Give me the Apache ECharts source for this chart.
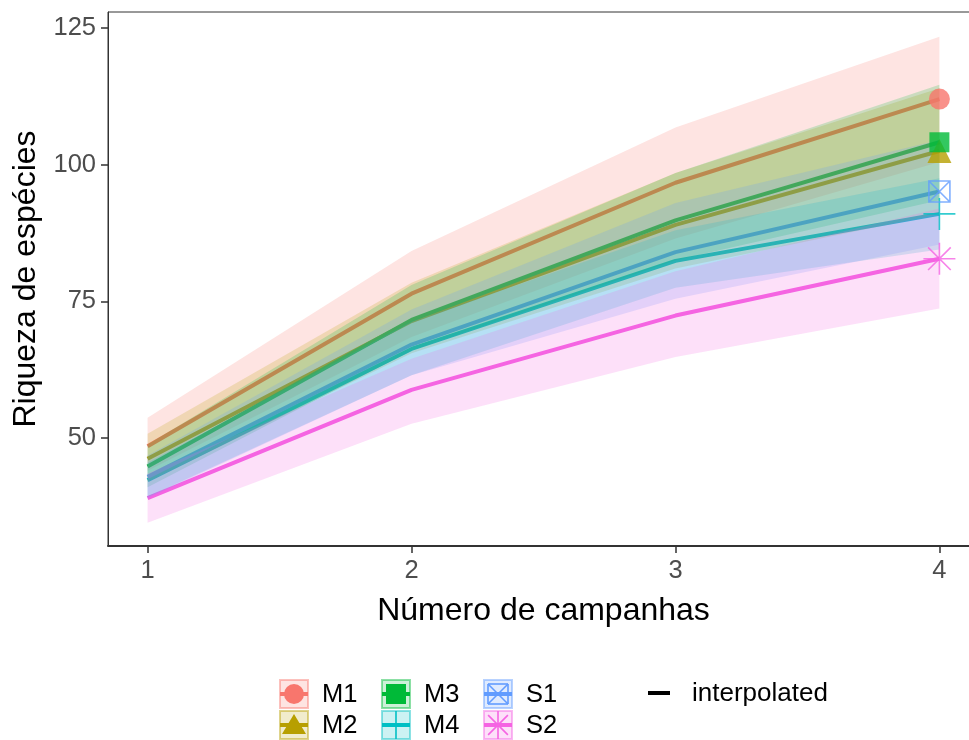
<!DOCTYPE html>
<html>
<head>
<meta charset="utf-8">
<script src="https://cdn.jsdelivr.net/npm/echarts@6/dist/echarts.min.js"></script>
<style>
html,body{margin:0;padding:0;background:#fff;}
#chart{width:969px;height:740px;}
</style>
</head>
<body>
<div id="chart"></div>
<script>
// ---- data ----
const campanhas = [1, 2, 3, 4];
const xTicks = [1, 2, 3, 4];
const yTicks = [50, 75, 100, 125];
const groups = ['M1', 'M2', 'M3', 'M4', 'S1', 'S2'];

const M1 = [48.5, 76.4, 96.7, 112.0];
const M1_lo = [44.0, 68.5, 86.5, 100.5];
const M1_hi = [53.7, 84.2, 106.8, 123.4];

const M2 = [46.2, 71.4, 89.0, 102.5];
const M2_lo = [42.0, 65.5, 81.0, 91.0];
const M2_hi = [50.8, 78.4, 98.5, 114.0];

const M3 = [44.8, 71.6, 89.8, 104.1];
const M3_lo = [41.0, 66.0, 82.5, 93.5];
const M3_hi = [48.8, 78.0, 98.5, 114.6];

const M4 = [42.3, 66.3, 82.4, 91.0];
const M4_lo = [39.2, 61.5, 77.5, 84.5];
const M4_hi = [45.5, 71.3, 88.0, 97.5];

const S1 = [42.9, 67.1, 84.0, 95.1];
const S1_lo = [39.0, 61.5, 75.5, 85.4];
const S1_hi = [46.8, 73.5, 93.0, 104.5];

const S2 = [39.0, 58.8, 72.4, 82.8];
const S2_lo = [34.5, 52.6, 64.8, 73.7];
const S2_hi = [43.5, 64.5, 80.5, 92.0];

const values = {M1: M1, M2: M2, M3: M3, M4: M4, S1: S1, S2: S2};
const lowers = {M1: M1_lo, M2: M2_lo, M3: M3_lo, M4: M4_lo, S1: S1_lo, S2: S2_lo};
const uppers = {M1: M1_hi, M2: M2_hi, M3: M3_hi, M4: M4_hi, S1: S1_hi, S2: S2_hi};

// ---- style ----
const colors = {M1: '#F8766D', M2: '#B79F00', M3: '#00BA38', M4: '#00BFC4', S1: '#619CFF', S2: '#F564E3'};
const FONT = '"Liberation Sans", Arial, sans-serif';
function rgba(hex, a) {
  const r = parseInt(hex.slice(1, 3), 16), g = parseInt(hex.slice(3, 5), 16), b = parseInt(hex.slice(5, 7), 16);
  return 'rgba(' + r + ',' + g + ',' + b + ',' + a + ')';
}
const PLUS = 'M10,0 L10,20 M0,10 L20,10';
const BOXX = 'M0,0 L20,0 L20,20 L0,20 Z M0,0 L20,20 M20,0 L0,20';
const STAR = 'M10,0 L10,20 M0,10 L20,10 M2.93,2.93 L17.07,17.07 M17.07,2.93 L2.93,17.07';
// same shapes as segment lists (unit 0..20) for the legend keys
const SEG_PLUS = [[10, 0, 10, 20], [0, 10, 20, 10]];
const SEG_BOXX = [[0, 0, 20, 0], [20, 0, 20, 20], [20, 20, 0, 20], [0, 20, 0, 0], [0, 0, 20, 20], [20, 0, 0, 20]];
const SEG_STAR = [[10, 0, 10, 20], [0, 10, 20, 10], [2.93, 2.93, 17.07, 17.07], [17.07, 2.93, 2.93, 17.07]];
const symbols = {
  M1: {symbol: 'circle', size: 21, filled: true},
  M2: {symbol: 'triangle', size: 24, filled: true},
  M3: {symbol: 'rect', size: 20, filled: true},
  M4: {symbol: 'path://' + PLUS, size: 32, filled: false},
  S1: {symbol: 'path://' + BOXX, size: 21, filled: false},
  S2: {symbol: 'path://' + STAR, size: 32, filled: false}
};

const series = [];
// lines (under ribbons, as in the original layering)
groups.forEach(g => {
  series.push({
    type: 'line', name: g + ' line', z: 2,
    data: campanhas.map((x, i) => [x, values[g][i]]),
    showSymbol: false, symbol: 'none',
    lineStyle: {color: colors[g], width: 4},
    silent: true, animation: false
  });
});
// ribbons
groups.forEach(g => {
  const lo = lowers[g], hi = uppers[g];
  series.push({
    type: 'custom', name: g + ' ribbon', z: 3,
    data: campanhas.map((x, i) => [x, lo[i], hi[i]]),
    encode: {x: 0, y: [1, 2]},
    renderItem: function (params, api) {
      if (params.dataIndex !== 0) return null;
      const pts = [];
      for (let i = 0; i < campanhas.length; i++) pts.push(api.coord([campanhas[i], hi[i]]));
      for (let i = campanhas.length - 1; i >= 0; i--) pts.push(api.coord([campanhas[i], lo[i]]));
      return {type: 'polygon', shape: {points: pts}, style: {fill: rgba(colors[g], 0.2)}};
    },
    silent: true, animation: false
  });
});
// observed points
groups.forEach(g => {
  const s = symbols[g];
  const n = campanhas.length - 1;
  series.push({
    type: 'scatter', name: g, z: 4,
    data: [[campanhas[n], values[g][n]]],
    symbol: s.symbol, symbolSize: s.size,
    itemStyle: s.filled ? {color: colors[g]} : {color: 'none', borderColor: colors[g], borderWidth: 1.6},
    silent: true, animation: false
  });
});

// ---- legend (drawn as graphic keys) ----
const graphics = [];
const colX = [279, 381, 483];
const rowY = [679, 710];
const KEY = 30;
const legendPos = {M1: [0, 0], M2: [0, 1], M3: [1, 0], M4: [1, 1], S1: [2, 0], S2: [2, 1]};
function segs(list, ox, oy, size, c) {
  const k = size / 20;
  list.forEach(s => graphics.push({type: 'line',
    shape: {x1: ox + s[0] * k, y1: oy + s[1] * k, x2: ox + s[2] * k, y2: oy + s[3] * k},
    style: {stroke: c, lineWidth: 1.6}}));
}
groups.forEach(g => {
  const c = colors[g];
  const x0 = colX[legendPos[g][0]], y0 = rowY[legendPos[g][1]];
  const cx = x0 + KEY / 2, cy = y0 + KEY / 2;
  graphics.push({type: 'rect', shape: {x: x0 + 1, y: y0 + 1, width: KEY - 2, height: KEY - 2},
    style: {fill: rgba(c, 0.2), stroke: rgba(c, 0.45), lineWidth: 2}});
  graphics.push({type: 'line', shape: {x1: x0 + 1, y1: cy, x2: x0 + KEY - 1, y2: cy},
    style: {stroke: c, lineWidth: 4}});
  if (g === 'M1') graphics.push({type: 'circle', shape: {cx: cx, cy: cy, r: 10}, style: {fill: c}});
  if (g === 'M2') graphics.push({type: 'polygon', shape: {points: [[cx, cy - 11], [cx + 12, cy + 9], [cx - 12, cy + 9]]}, style: {fill: c}});
  if (g === 'M3') graphics.push({type: 'rect', shape: {x: cx - 10, y: cy - 10, width: 20, height: 20}, style: {fill: c}});
  if (g === 'M4') segs(SEG_PLUS, x0 + 1, y0 + 1, KEY - 2, c);
  if (g === 'S1') segs(SEG_BOXX, cx - 10, cy - 10, 20, c);
  if (g === 'S2') segs(SEG_STAR, x0 + 1, y0 + 1, KEY - 2, c);
  graphics.push({type: 'text', x: x0 + 43, y: cy + 1, style: {text: g, font: '25.5px ' + FONT, fill: '#000', verticalAlign: 'middle', align: 'left'}});
});
graphics.push({type: 'line', shape: {x1: 648, y1: 693, x2: 670, y2: 693}, style: {stroke: '#000', lineWidth: 4}});
graphics.push({type: 'text', x: 692, y: 694, style: {text: 'interpolated', font: '26px ' + FONT, fill: '#000', verticalAlign: 'middle', align: 'left'}});

const chart = echarts.init(document.getElementById('chart'), null, {renderer: 'canvas'});
chart.setOption({
  backgroundColor: '#fff',
  animation: false,
  textStyle: {fontFamily: FONT},
  grid: {left: 108, top: 12, width: 871, height: 534, show: true, borderColor: '#333', borderWidth: 1,
         backgroundColor: 'transparent', containLabel: false, outerBoundsMode: 'none'},
  xAxis: {
    type: 'value', min: 0.85, max: 4.15,
    splitLine: {show: false},
    axisLine: {show: true, onZero: false, lineStyle: {color: '#333', width: 2}},
    axisTick: {show: true, length: 7, lineStyle: {color: '#333', width: 1.5}, customValues: xTicks},
    axisLabel: {color: '#4D4D4D', fontSize: 25.5, margin: 12, customValues: xTicks, fontFamily: FONT},
    name: 'Número de campanhas', nameLocation: 'middle', nameGap: 49,
    nameTextStyle: {fontSize: 32, color: '#000', fontFamily: FONT}
  },
  yAxis: {
    type: 'value', min: 30.25, max: 127.93,
    splitLine: {show: false},
    axisLine: {show: true, onZero: false, lineStyle: {color: '#333', width: 1}},
    axisTick: {show: true, length: 7, lineStyle: {color: '#333', width: 1.5}, customValues: yTicks},
    axisLabel: {color: '#4D4D4D', fontSize: 25.5, margin: 12, customValues: yTicks, fontFamily: FONT},
    name: 'Riqueza de espécies', nameLocation: 'middle', nameGap: 64,
    nameTextStyle: {fontSize: 32, color: '#000', fontFamily: FONT}
  },
  graphic: graphics,
  series: series
});
</script>
</body>
</html>
